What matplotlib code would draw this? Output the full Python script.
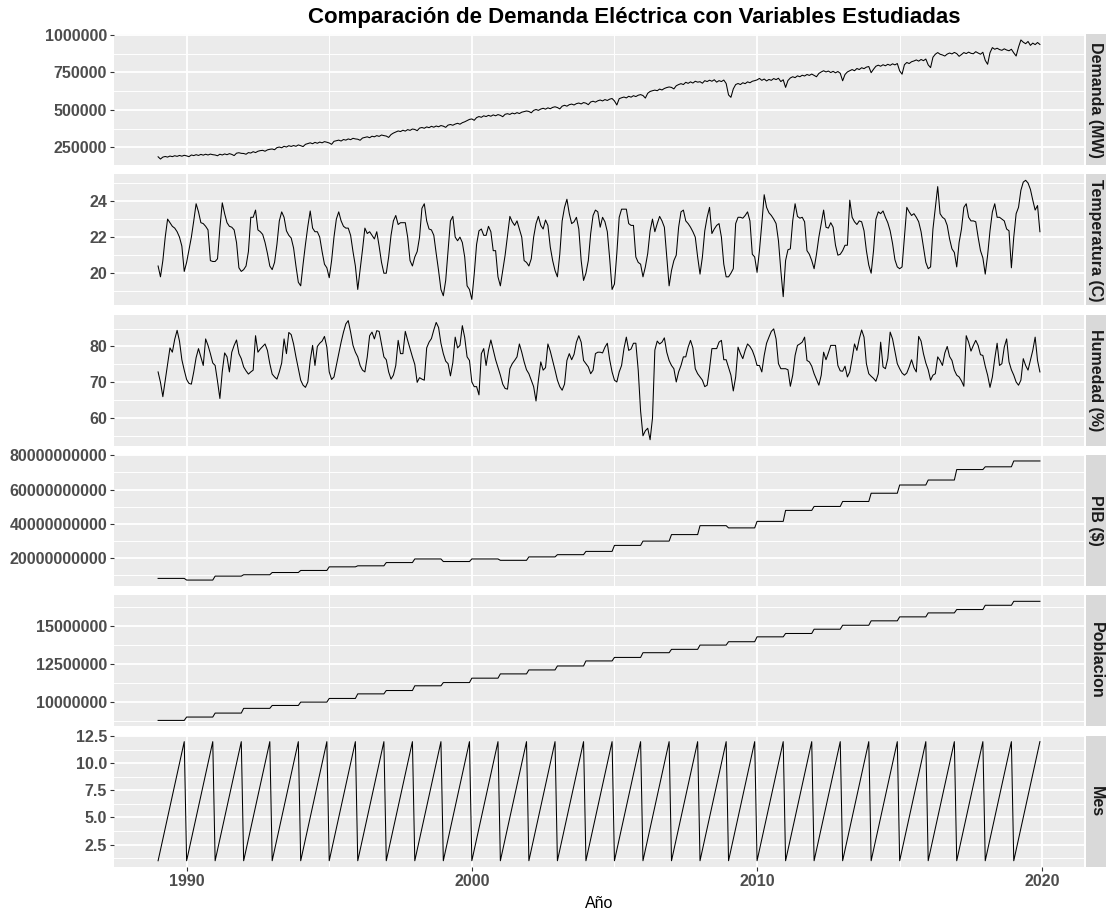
import numpy as np
import matplotlib
matplotlib.use("Agg")
import matplotlib.pyplot as plt
from matplotlib.patches import Rectangle
from matplotlib.ticker import FixedLocator, FuncFormatter

# ---------------------------------------------------------------- data
anios = list(range(1989, 2020))
meses = [1, 2, 3, 4, 5, 6, 7, 8, 9, 10, 11, 12]

# Demanda mensual (miles de MW), una fila por año
demanda_miles = [
    [188, 173, 186, 190, 186, 193, 189, 195, 191, 197, 192, 198],
    [194, 189, 200, 196, 202, 197, 204, 199, 205, 200, 206, 202],
    [200, 195, 205, 200, 207, 202, 209, 204, 196, 212, 215, 211],
    [210, 205, 216, 213, 222, 216, 225, 229, 231, 225, 234, 238],
    [240, 235, 249, 253, 248, 258, 253, 262, 257, 263, 258, 267],
    [262, 256, 271, 276, 281, 275, 284, 278, 286, 281, 289, 285],
    [280, 271, 291, 295, 299, 293, 303, 299, 307, 302, 311, 307],
    [305, 298, 313, 317, 321, 315, 325, 321, 329, 324, 333, 329],
    [326, 317, 336, 346, 353, 360, 356, 365, 359, 369, 364, 373],
    [370, 362, 379, 383, 378, 387, 382, 391, 385, 393, 388, 396],
    [392, 384, 399, 403, 398, 406, 411, 405, 415, 421, 429, 437],
    [440, 431, 449, 456, 451, 461, 456, 464, 458, 467, 461, 469],
    [464, 455, 471, 475, 470, 479, 474, 482, 476, 485, 489, 493],
    [490, 481, 497, 503, 497, 506, 511, 505, 514, 508, 517, 521],
    [516, 507, 525, 531, 525, 535, 539, 533, 542, 546, 540, 549],
    [545, 535, 553, 558, 552, 561, 566, 560, 569, 563, 572, 576],
    [560, 533, 575, 581, 586, 580, 591, 585, 595, 589, 598, 602],
    [596, 579, 611, 623, 628, 632, 628, 639, 633, 643, 649, 653],
    [650, 640, 661, 669, 675, 669, 684, 677, 687, 679, 691, 685],
    [688, 678, 695, 689, 698, 691, 701, 685, 695, 689, 699, 676],
    [600, 584, 640, 669, 676, 669, 681, 675, 687, 681, 691, 695],
    [700, 710, 697, 706, 693, 703, 697, 709, 702, 711, 689, 701],
    [650, 696, 713, 721, 715, 727, 721, 731, 726, 736, 730, 739],
    [730, 721, 743, 753, 761, 753, 759, 749, 757, 747, 756, 744],
    [694, 736, 753, 761, 769, 761, 776, 769, 781, 775, 785, 789],
    [748, 771, 791, 798, 791, 801, 794, 804, 797, 807, 800, 809],
    [760, 738, 801, 816, 809, 821, 826, 833, 825, 836, 828, 839],
    [800, 782, 851, 871, 882, 871, 866, 859, 872, 879, 873, 883],
    [875, 857, 869, 882, 875, 885, 877, 874, 888, 879, 871, 884],
    [830, 804, 881, 915, 904, 911, 902, 897, 907, 899, 894, 904],
    [880, 859, 918, 966, 951, 941, 956, 930, 945, 935, 949, 936],
]

# Temperatura media mensual (C)
temperatura = [
    [20.4, 19.8, 20.7, 22.0, 23.0, 22.8, 22.6, 22.5, 22.3, 22.0, 21.5, 20.1],
    [20.6, 21.3, 22.0, 22.9, 23.85, 23.4, 22.8, 22.75, 22.6, 22.4, 20.7, 20.65],
    [20.65, 20.8, 22.5, 23.9, 23.3, 22.8, 22.6, 22.55, 22.4, 21.7, 20.3, 20.1],
    [20.2, 20.4, 21.2, 23.1, 23.1, 23.5, 22.4, 22.3, 22.15, 21.7, 21.1, 20.4],
    [20.2, 20.6, 21.6, 22.9, 23.4, 23.1, 22.35, 22.1, 21.95, 21.4, 20.4, 19.5],
    [19.3, 20.5, 21.6, 22.6, 23.45, 22.5, 22.3, 22.3, 22.0, 21.2, 20.5, 20.3],
    [19.75, 20.7, 22.0, 23.0, 23.4, 22.9, 22.6, 22.5, 22.5, 22.1, 21.2, 20.4],
    [19.1, 20.2, 21.3, 22.5, 22.2, 22.3, 22.1, 21.9, 22.3, 21.5, 20.6, 20.0],
    [20.0, 20.9, 22.1, 22.9, 23.2, 22.7, 22.8, 22.8, 22.8, 22.0, 20.7, 20.4],
    [20.9, 21.2, 22.0, 23.6, 23.85, 22.9, 22.45, 22.4, 22.1, 21.1, 20.15, 19.1],
    [18.75, 19.6, 21.25, 22.9, 23.15, 22.0, 21.8, 22.0, 21.7, 20.9, 19.3, 19.1],
    [18.55, 19.95, 21.6, 22.35, 22.45, 22.1, 22.1, 22.6, 22.3, 21.25, 21.25, 19.8],
    [19.3, 20.15, 21.0, 22.1, 23.15, 22.85, 22.65, 22.9, 22.45, 22.0, 20.7, 20.6],
    [20.4, 20.8, 22.0, 22.75, 23.15, 22.65, 22.45, 22.95, 22.65, 21.45, 20.7, 20.15],
    [19.8, 21.05, 22.9, 23.65, 24.1, 23.3, 22.75, 22.85, 23.1, 22.45, 20.7, 19.6],
    [20.0, 20.7, 22.2, 23.2, 23.5, 23.4, 22.55, 23.1, 22.85, 22.3, 20.8, 19.1],
    [19.4, 21.1, 23.1, 23.55, 23.55, 23.55, 22.75, 22.65, 22.65, 20.9, 20.6, 20.5],
    [19.8, 20.35, 21.1, 22.35, 23.0, 22.3, 22.75, 23.15, 22.9, 22.55, 20.9, 19.3],
    [20.15, 20.7, 21.0, 22.55, 23.4, 23.5, 22.9, 22.75, 22.55, 22.3, 22.0, 20.9],
    [19.95, 20.9, 22.35, 23.1, 23.65, 22.2, 22.45, 22.65, 22.75, 22.0, 20.5, 19.8],
    [19.8, 20.0, 20.25, 22.75, 23.1, 23.1, 23.05, 23.2, 23.4, 22.9, 21.05, 20.9],
    [20.05, 21.25, 22.75, 24.35, 23.65, 23.35, 23.2, 23.0, 22.75, 21.8, 20.15, 18.7],
    [20.7, 21.3, 21.35, 22.9, 23.85, 23.15, 23.05, 23.1, 22.85, 21.25, 21.05, 20.7],
    [20.25, 21.05, 22.0, 22.75, 23.5, 22.55, 22.5, 22.8, 22.55, 21.55, 21.0, 21.05],
    [21.25, 21.55, 21.55, 24.05, 23.1, 22.85, 22.7, 22.9, 22.85, 22.35, 21.25, 20.45],
    [20.0, 21.25, 23.0, 23.4, 23.3, 23.45, 23.1, 22.8, 22.35, 21.65, 20.75, 20.35],
    [20.25, 20.35, 22.0, 23.65, 23.4, 23.2, 23.3, 23.1, 22.85, 22.3, 21.45, 20.6],
    [20.25, 20.35, 22.45, 23.65, 24.8, 23.3, 23.1, 23.0, 22.65, 21.9, 21.35, 21.15],
    [20.35, 21.7, 22.45, 23.65, 23.85, 23.1, 22.9, 22.9, 22.85, 22.0, 21.25, 20.85],
    [19.95, 21.0, 22.35, 23.4, 23.85, 23.1, 23.1, 23.0, 22.9, 22.45, 22.35, 20.3],
    [22.0, 23.3, 23.65, 24.6, 25.05, 25.15, 25.0, 24.65, 24.05, 23.5, 23.75, 22.3],
]

# Humedad relativa mensual (%)
humedad = [
    [72.9, 70.0, 66.0, 70.5, 75.0, 79.6, 78.4, 82.0, 84.5, 81.5, 76.3, 73.4],
    [70.8, 69.7, 69.5, 72.9, 76.9, 79.4, 77.1, 74.7, 82.1, 80.3, 78.0, 75.4],
    [74.7, 70.3, 65.5, 73.0, 78.2, 77.1, 72.9, 78.4, 80.3, 81.8, 78.0, 76.6],
    [74.3, 73.2, 72.3, 72.9, 73.4, 83.0, 78.4, 79.3, 80.0, 80.7, 78.9, 75.2],
    [72.3, 71.5, 70.9, 72.9, 75.4, 82.1, 78.0, 83.9, 83.3, 80.7, 77.1, 73.8],
    [70.6, 69.2, 68.6, 70.1, 76.1, 80.3, 74.7, 80.0, 80.9, 81.5, 82.8, 79.8],
    [72.9, 70.8, 71.5, 74.7, 78.0, 81.2, 84.0, 86.3, 87.2, 84.0, 80.3, 78.4],
    [77.1, 74.7, 73.4, 72.9, 77.1, 83.0, 84.0, 82.1, 84.4, 84.2, 80.7, 77.1],
    [76.3, 72.9, 70.9, 72.0, 74.7, 81.7, 78.0, 78.0, 84.2, 81.7, 79.4, 77.1],
    [75.0, 70.0, 71.3, 70.9, 70.6, 79.6, 81.2, 82.2, 84.6, 86.7, 85.3, 80.9],
    [78.0, 75.9, 75.2, 71.8, 75.5, 82.6, 79.6, 80.3, 85.8, 82.5, 77.1, 76.1],
    [70.1, 68.8, 68.8, 66.5, 78.0, 79.4, 74.7, 78.9, 81.8, 79.1, 76.3, 74.1],
    [72.0, 69.5, 68.3, 68.1, 73.8, 75.2, 76.1, 77.1, 80.7, 78.4, 75.7, 73.5],
    [72.4, 70.6, 68.8, 64.8, 70.6, 75.7, 73.4, 74.1, 80.7, 78.7, 76.1, 73.4],
    [70.6, 68.8, 67.8, 69.5, 76.1, 78.0, 76.3, 77.8, 81.2, 83.0, 81.2, 76.1],
    [75.2, 74.3, 72.4, 73.4, 78.0, 78.4, 78.4, 78.2, 79.8, 80.9, 76.3, 72.9],
    [70.6, 70.1, 72.9, 74.7, 79.4, 82.6, 78.9, 79.3, 80.9, 80.9, 73.4, 62.0],
    [55.1, 56.5, 57.2, 54.0, 60.0, 79.0, 81.5, 80.7, 81.2, 82.4, 78.4, 76.1],
    [74.7, 73.8, 70.1, 72.9, 74.7, 77.1, 77.1, 79.8, 81.7, 79.6, 73.8, 72.4],
    [71.5, 70.6, 68.8, 69.2, 73.8, 79.4, 79.4, 79.4, 81.2, 81.7, 76.3, 76.3],
    [74.1, 72.0, 67.6, 71.5, 79.8, 78.0, 76.6, 78.9, 80.7, 80.0, 78.9, 77.1],
    [74.7, 74.7, 72.9, 77.5, 80.9, 82.6, 84.2, 84.9, 82.1, 75.2, 73.8, 73.8],
    [73.8, 73.5, 68.9, 72.0, 77.5, 80.3, 80.7, 81.2, 82.6, 76.1, 75.7, 74.5],
    [72.4, 70.8, 69.2, 72.0, 78.4, 76.3, 78.2, 80.3, 80.3, 80.3, 74.7, 73.2],
    [73.1, 74.5, 71.5, 72.9, 76.6, 80.7, 78.9, 82.1, 84.6, 82.6, 75.2, 72.4],
    [71.7, 71.1, 70.3, 72.4, 81.2, 74.3, 73.8, 76.6, 84.0, 82.1, 78.7, 75.2],
    [73.8, 72.6, 72.0, 72.6, 74.3, 76.3, 74.1, 72.9, 82.8, 81.5, 78.0, 75.4],
    [73.5, 70.6, 72.0, 72.4, 77.1, 76.1, 74.7, 78.2, 80.0, 77.2, 76.1, 73.4],
    [72.0, 71.5, 70.4, 68.9, 83.0, 81.2, 78.7, 80.3, 81.7, 80.3, 77.7, 77.5],
    [74.5, 72.0, 68.6, 71.5, 76.6, 80.9, 74.7, 75.2, 79.8, 82.1, 75.7, 73.5],
    [72.0, 70.1, 69.2, 70.6, 76.6, 74.7, 73.4, 76.1, 78.9, 82.6, 76.1, 72.9],
]

# PIB anual ($) y poblacion anual (habitantes)
pib_anual = [8.27e9, 7.3e9, 9.6e9, 10.4e9, 11.7e9, 12.9e9, 15.0e9, 15.6e9,
             17.5e9, 19.6e9, 18.1e9, 19.6e9, 18.8e9, 20.8e9, 22.1e9, 24.0e9,
             27.5e9, 30.0e9, 33.8e9, 39.0e9, 37.7e9, 41.5e9, 47.9e9, 50.2e9,
             53.1e9, 57.9e9, 62.7e9, 65.6e9, 71.7e9, 73.3e9, 76.7e9]
poblacion_anual = [8.80e6, 9.02e6, 9.28e6, 9.59e6, 9.78e6, 10.00e6, 10.24e6,
                   10.54e6, 10.76e6, 11.07e6, 11.28e6, 11.57e6, 11.85e6,
                   12.11e6, 12.37e6, 12.70e6, 12.93e6, 13.24e6, 13.46e6,
                   13.74e6, 13.96e6, 14.28e6, 14.50e6, 14.78e6, 15.04e6,
                   15.33e6, 15.59e6, 15.85e6, 16.07e6, 16.35e6, 16.61e6]

# ---------------------------------------------------------------- series
tiempo = np.array([a + (m - 1) / 12 for a in anios for m in meses])
serie_demanda = np.array(demanda_miles, dtype=float).ravel() * 1000
serie_temp = np.array(temperatura, dtype=float).ravel()
serie_hum = np.array(humedad, dtype=float).ravel()
serie_pib = np.repeat(pib_anual, len(meses))
serie_pob = np.repeat(poblacion_anual, len(meses))
serie_mes = np.array([m for _ in anios for m in meses], dtype=float)

fmt_int = FuncFormatter(lambda v, p: f"{v:.0f}")
fmt_dec = FuncFormatter(lambda v, p: f"{v:.1f}")

paneles = [
    ("Demanda (MW)", serie_demanda, [250000, 500000, 750000, 1000000],
     [375000, 625000, 875000], fmt_int),
    ("Temperatura (C)", serie_temp, [20, 22, 24], [19, 21, 23, 25], fmt_int),
    ("Humedad (%)", serie_hum, [60, 70, 80], [55, 65, 75, 85], fmt_int),
    ("PIB ($)", serie_pib, [2e10, 4e10, 6e10, 8e10],
     [1e10, 3e10, 5e10, 7e10], fmt_int),
    ("Poblacion", serie_pob, [1e7, 1.25e7, 1.5e7],
     [8.75e6, 1.125e7, 1.375e7, 1.625e7], fmt_int),
    ("Mes", serie_mes, [2.5, 5.0, 7.5, 10.0, 12.5],
     [1.25, 3.75, 6.25, 8.75, 11.25], fmt_dec),
]

# ---------------------------------------------------------------- figure
plt.rcParams["font.family"] = ["Liberation Sans", "DejaVu Sans"]
W, H = 1106, 913
fig = plt.figure(figsize=(W / 100, H / 100), dpi=100)

left_px, right_px = 114, 1084
top0, pitch, alto = 34, 140.34, 131
strip_x0, strip_w = 1086, 20

span = tiempo.max() - tiempo.min()
xlim = (tiempo.min() - 0.05 * span, tiempo.max() + 0.05 * span)

for i, (etiqueta, valores, mayores, menores, fmt) in enumerate(paneles):
    top = top0 + i * pitch
    ax = fig.add_axes([left_px / W, 1 - (top + alto) / H,
                       (right_px - left_px) / W, alto / H])
    ax.set_facecolor("#EBEBEB")
    ax.set_axisbelow(True)
    for s in ax.spines.values():
        s.set_visible(False)

    ax.plot(tiempo, valores, color="black", lw=0.75, solid_joinstyle="round")

    ax.set_xlim(*xlim)
    vmin, vmax = valores.min(), valores.max()
    r = vmax - vmin
    ax.set_ylim(vmin - 0.05 * r, vmax + 0.05 * r)

    ax.xaxis.set_major_locator(FixedLocator([1990, 2000, 2010, 2020]))
    ax.xaxis.set_minor_locator(FixedLocator([1995, 2005, 2015]))
    ax.yaxis.set_major_locator(FixedLocator(mayores))
    ax.yaxis.set_minor_locator(FixedLocator(menores))
    ax.yaxis.set_major_formatter(fmt)

    ax.grid(which="major", color="white", lw=1.35)
    ax.grid(which="minor", color="white", lw=0.7)

    ax.tick_params(which="minor", length=0)
    ax.tick_params(axis="y", which="major", length=2.7, width=0.8,
                   color="#333333", pad=2.2, labelsize=11.5,
                   labelcolor="#4D4D4D")
    for t in ax.get_yticklabels():
        t.set_fontweight("bold")

    if i == len(paneles) - 1:
        ax.tick_params(axis="x", which="major", length=2.7, width=0.8,
                       color="#333333", pad=2.2, labelsize=11.5,
                       labelcolor="#4D4D4D")
        ax.set_xticklabels(["1990", "2000", "2010", "2020"], fontweight="bold")
    else:
        ax.tick_params(axis="x", which="major", length=0, labelbottom=False)

    # facet strip on the right
    fig.patches.append(Rectangle((strip_x0 / W, 1 - (top + alto) / H),
                                 strip_w / W, alto / H,
                                 transform=fig.transFigure,
                                 facecolor="#D9D9D9", edgecolor="none"))
    fig.text((strip_x0 + strip_w / 2) / W, 1 - (top + alto / 2) / H, etiqueta,
             rotation=270, ha="center", va="center", fontsize=11.5,
             fontweight="bold", color="#1A1A1A")

fig.text(634 / W, 1 - 17 / H,
         "Comparación de Demanda Eléctrica con Variables Estudiadas",
         ha="center", va="center", fontsize=16, fontweight="bold",
         color="black")
fig.text(599 / W, 1 - 903 / H, "Año", ha="center", va="center",
         fontsize=11.5, color="black")

fig.savefig("out.png", dpi=100, facecolor="white")
